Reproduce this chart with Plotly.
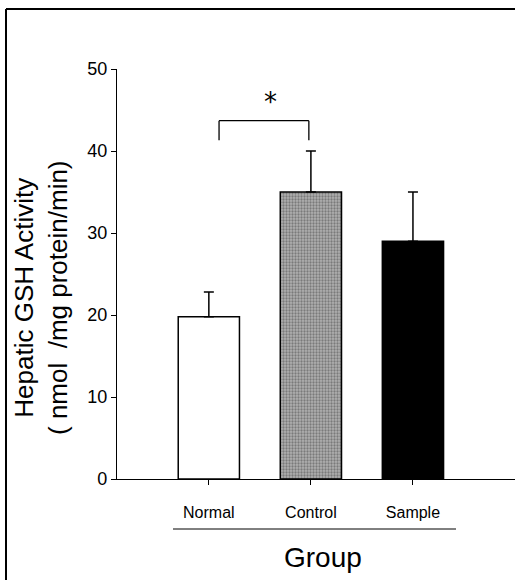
import plotly.graph_objects as go

groups = ["Normal", "Control", "Sample"]
means = [19.8, 35.0, 29.0]
errors = [3.0, 5.0, 6.0]
bar_fills = ["white", "#b0b0b0", "black"]
y_ticks = [0, 10, 20, 30, 40, 50]

FONT = "Liberation Sans, Arial, sans-serif"

W, H = 515, 580
ml, mr, mt, mb = 117, 0, 69, 101
pw, ph = W - ml - mr, H - mt - mb

def px(x):
    return (x - ml) / pw

def py(y):
    return (H - mb - y) / ph

fig = go.Figure()
fig.add_trace(go.Bar(
    x=list(range(len(groups))), y=means, width=0.6,
    marker=dict(
        color=bar_fills,
        line=dict(color="black", width=1.5),
        pattern=dict(shape=["", ".", ""], fgcolor="#3a3a3a", bgcolor="#c0c0c0",
                     size=3, solidity=0.45),
    ),
    error_y=dict(type="data", symmetric=False, array=errors, arrayminus=[0, 0, 0],
                 color="black", thickness=1.5, width=5),
    showlegend=False,
))

# significance bracket
fig.add_shape(type="line", xref="x", yref="y", x0=0.1, x1=0.1, y0=41.3, y1=43.7,
              line=dict(color="black", width=1.3))
fig.add_shape(type="line", xref="x", yref="y", x0=0.1, x1=0.98, y0=43.7, y1=43.7,
              line=dict(color="black", width=1.3))
fig.add_shape(type="line", xref="x", yref="y", x0=0.98, x1=0.98, y0=41.3, y1=43.7,
              line=dict(color="black", width=1.3))
fig.add_annotation(x=0.6, y=46.0, xref="x", yref="y", text="*", showarrow=False,
                   xanchor="center", yanchor="middle",
                   font=dict(size=26, color="black", family="DejaVu Sans"))

# frame (left and top edges)
fig.add_shape(type="line", xref="paper", yref="paper", x0=px(6), x1=px(6),
              y0=py(580), y1=py(9), line=dict(color="black", width=2))
fig.add_shape(type="line", xref="paper", yref="paper", x0=px(6), x1=px(515),
              y0=py(9), y1=py(9), line=dict(color="black", width=2))

# line under category labels
fig.add_shape(type="line", xref="paper", yref="paper", x0=px(173), x1=px(456),
              y0=py(529), y1=py(529), line=dict(color="black", width=1))

# y title
fig.add_annotation(x=px(41), y=py(298), xref="paper", yref="paper",
                   xanchor="center", yanchor="middle",
                   text="Hepatic GSH Activity<br>( nmol  /mg protein/min)",
                   textangle=-90, showarrow=False,
                   font=dict(size=26, color="black", family=FONT))
# x title
fig.add_annotation(x=px(323), y=py(557), xref="paper", yref="paper",
                   xanchor="center", yanchor="middle",
                   text="Group", showarrow=False,
                   font=dict(size=28, color="black", family=FONT))

fig.update_xaxes(
    range=[-0.9, 3.0], tickmode="array", tickvals=list(range(len(groups))),
    ticktext=groups, ticks="outside", ticklen=5, tickcolor="black",
    ticklabelstandoff=14,
    showline=True, linecolor="black", linewidth=1.2, showgrid=False, zeroline=False,
    tickfont=dict(size=16, color="black", family=FONT),
)
fig.update_yaxes(
    range=[0, 50], tickmode="array", tickvals=y_ticks,
    ticks="outside", ticklen=5, tickcolor="black",
    showline=True, linecolor="black", linewidth=1.2, showgrid=False, zeroline=False,
    tickfont=dict(size=18, color="black", family=FONT),
)
fig.update_layout(
    width=W, height=H, margin=dict(l=ml, r=mr, t=mt, b=mb),
    plot_bgcolor="white", paper_bgcolor="white", bargap=0.4,
)
fig.write_html("out.html", config={"displayModeBar": False},
               post_script="document.body.style.margin='0';")
